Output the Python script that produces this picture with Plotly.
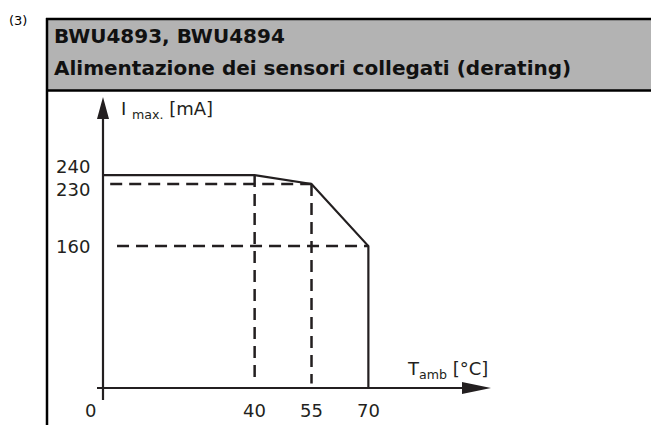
import plotly.graph_objects as go

# ---- data ----
curve_t = [0, 40, 55, 70, 70]
curve_i = [240, 240, 230, 160, 0]
x_ticks = [0, 40, 55, 70]
y_ticks = [240, 230, 160]
title_1 = "BWU4893, BWU4894"
title_2 = "Alimentazione dei sensori collegati (derating)"
note = "(3)"
y_label = "I <sub>max.</sub> [mA]"
x_label = "T<sub>amb</sub> [°C]"

W, H = 651, 425
INK = "#231f20"

# axis scaling (origin at pixel 103, 388)
X0, Y0 = 103, 388
SX, SY = 3.791, 0.887
x_range = [-X0 / SX, (W - X0) / SX]
y_range = [-(H - Y0) / SY, Y0 / SY]


def px(x):
    return x / W


def py(y):
    return 1 - y / H


DASH = dict(color=INK, width=2.5, dash="12px,7px")
fig = go.Figure()

# dashed guide lines
fig.add_trace(go.Scatter(x=[1.9, curve_t[2]], y=[curve_i[2], curve_i[2]], mode="lines",
                         line=DASH, hoverinfo="skip"))
fig.add_trace(go.Scatter(x=[3.7, curve_t[3]], y=[curve_i[3], curve_i[3]], mode="lines",
                         line=DASH, hoverinfo="skip"))
fig.add_trace(go.Scatter(x=[curve_t[1], curve_t[1]], y=[curve_i[1], 5], mode="lines",
                         line=DASH, hoverinfo="skip"))
fig.add_trace(go.Scatter(x=[curve_t[2], curve_t[2]], y=[curve_i[2], 5], mode="lines",
                         line=DASH, hoverinfo="skip"))

# derating curve
fig.add_trace(go.Scatter(x=curve_t, y=curve_i, mode="lines",
                         line=dict(color=INK, width=2.2), hoverinfo="skip"))

shapes = []
# header box
shapes.append(dict(type="rect", xref="paper", yref="paper", x0=px(47), x1=px(W + 5),
                   y0=py(91), y1=py(19), fillcolor="#b3b3b3", line=dict(width=0), layer="below"))
shapes.append(dict(type="line", xref="paper", yref="paper", x0=px(46), x1=px(W + 5),
                   y0=py(19), y1=py(19), line=dict(color="black", width=2.5)))
shapes.append(dict(type="line", xref="paper", yref="paper", x0=px(46), x1=px(W + 5),
                   y0=py(90.5), y1=py(90.5), line=dict(color="black", width=2.5)))
shapes.append(dict(type="line", xref="paper", yref="paper", x0=px(47), x1=px(47),
                   y0=py(18), y1=py(H + 5), line=dict(color="black", width=2.5)))
# axes
shapes.append(dict(type="line", xref="paper", yref="paper", x0=px(X0), x1=px(X0),
                   y0=py(115), y1=py(400), line=dict(color=INK, width=2.2)))
shapes.append(dict(type="line", xref="paper", yref="paper", x0=px(97), x1=px(466),
                   y0=py(Y0), y1=py(Y0), line=dict(color=INK, width=2.2)))
# arrow heads
shapes.append(dict(type="path", xref="paper", yref="paper",
                   path=f"M {px(X0)} {py(97)} L {px(X0-6)} {py(119)} L {px(X0+6)} {py(119)} Z",
                   fillcolor=INK, line=dict(width=0)))
shapes.append(dict(type="path", xref="paper", yref="paper",
                   path=f"M {px(491)} {py(Y0)} L {px(462)} {py(Y0-6)} L {px(462)} {py(Y0+6)} Z",
                   fillcolor=INK, line=dict(width=0)))

ann = []
FONT = "DejaVu Sans, sans-serif"
ann.append(dict(xref="paper", yref="paper", x=px(7), y=py(20), text=note, showarrow=False,
                xanchor="left", yanchor="middle", font=dict(family=FONT, size=13, color="black")))
ann.append(dict(xref="paper", yref="paper", x=px(52), y=py(36), text=f"<b>{title_1}</b>", showarrow=False,
                xanchor="left", yanchor="middle", font=dict(family=FONT, size=20, color="#111")))
ann.append(dict(xref="paper", yref="paper", x=px(52), y=py(68), text=f"<b>{title_2}</b>", showarrow=False,
                xanchor="left", yanchor="middle", font=dict(family=FONT, size=20, color="#111")))
y_shift = {240: 9, 230: -6, 160: 0}
for v in y_ticks:
    ann.append(dict(xref="paper", yref="y", x=px(92), y=v, text=str(v), showarrow=False,
                    xanchor="right", yanchor="middle", yshift=y_shift.get(v, 0),
                    font=dict(family=FONT, size=18, color=INK)))
for v in x_ticks:
    ann.append(dict(xref="x", yref="paper", x=v, y=py(410), text=str(v), showarrow=False,
                    xanchor="center", yanchor="middle", xshift=-13 if v == 0 else 0,
                    font=dict(family=FONT, size=18, color=INK)))
ann.append(dict(xref="paper", yref="paper", x=px(119), y=py(110), text=y_label, showarrow=False,
                xanchor="left", yanchor="middle", font=dict(family=FONT, size=18, color=INK)))
ann.append(dict(xref="paper", yref="paper", x=px(405), y=py(370), text=x_label, showarrow=False,
                xanchor="left", yanchor="middle", font=dict(family=FONT, size=18, color=INK)))

fig.update_layout(
    width=W, height=H, margin=dict(l=0, r=0, t=0, b=0),
    paper_bgcolor="white", plot_bgcolor="white", showlegend=False,
    xaxis=dict(range=x_range, visible=False, fixedrange=True),
    yaxis=dict(range=y_range, visible=False, fixedrange=True),
    shapes=shapes, annotations=ann,
)
fig.write_html("out.html", config={"displayModeBar": False},
               post_script="document.body.style.margin='0';document.body.style.overflow='hidden';")
